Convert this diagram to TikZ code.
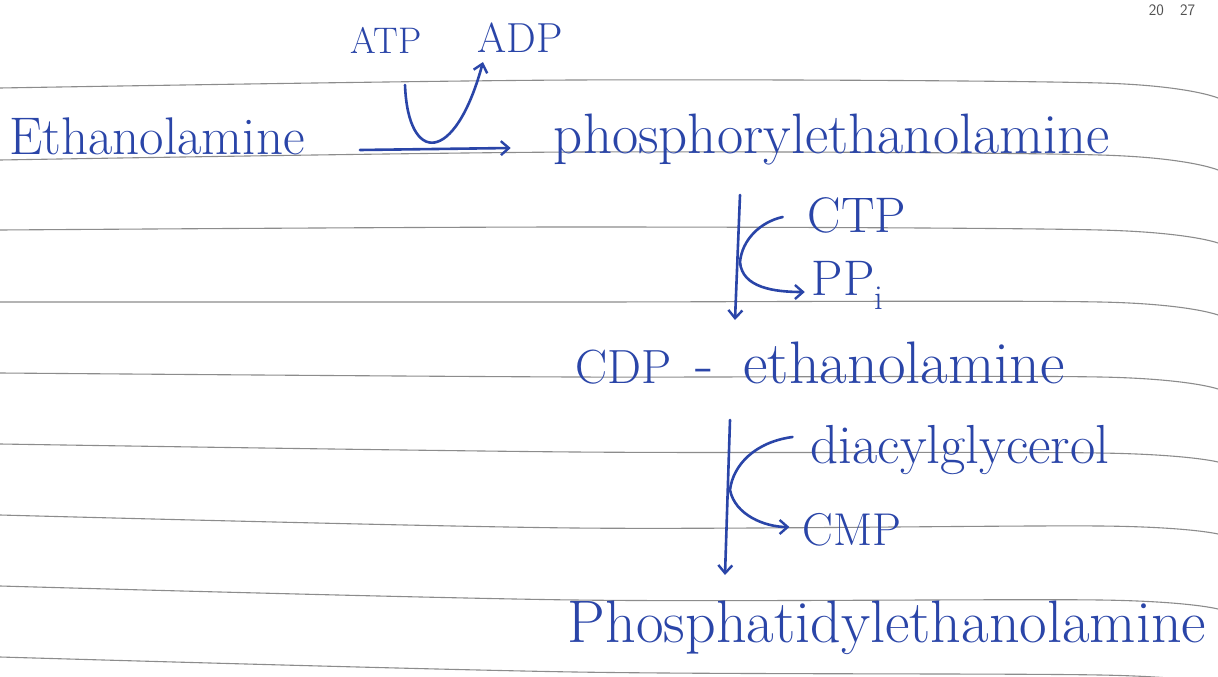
\documentclass[tikz,border=0pt]{standalone}
\usetikzlibrary{arrows.meta}
\definecolor{ink}{HTML}{2A45A8}
\definecolor{ruling}{HTML}{8C8C8C}
\definecolor{printed}{HTML}{505050}
\tikzset{
  chem/.style={ink,inner sep=0pt,font=\fontsize{55}{57}\selectfont},
  side/.style={ink,inner sep=0pt,font=\fontsize{50}{52}\selectfont},
  rxn/.style={ink,line width=2.6pt,line cap=round,-{Straight Barb[length=8pt,width=14pt,line width=2.4pt]}},
  ruled/.style={ruling,line width=1.1pt},
}
\begin{document}
\begin{tikzpicture}[x=1pt,y=-1pt]
  \fill[white] (0,0) rectangle (1218,677);
  \useasboundingbox (0,0) rectangle (1218,677);

  % Ruled paper
  \foreach \ya/\yb/\yc/\yd in {88/80/83/98,160/152/155/170,230/227/230/243,302/302/302/315,373/377/377/389,444/452/453/462,515/528/526/534,586/600/600/609,657/672/675/684}
    \draw[ruled] plot[smooth] coordinates {(0,\ya) (575,\yb) (1100,\yc) (1218,\yd)};
  \node[printed,anchor=north,font=\sffamily\fontsize{16}{18}\selectfont] (pageno) at (1172,1) {20\quad 27};

  % Compounds
  \node[chem,font=\fontsize{53}{55}\selectfont] (ethanol) at (157,136) {Ethanolamine};
  \node[chem,font=\fontsize{57}{59}\selectfont] (phospho) at (832,140) {phosphorylethanolamine};
  \node[chem,font=\fontsize{60}{62}\selectfont] (cdp) at (820,363) {{\fontsize{48}{50}\selectfont CDP}\hspace{0.4em}-\hspace{0.5em}ethanolamine};
  \node[chem,font=\fontsize{60}{62}\selectfont] (pe) at (887,628) {Phosphatidylethanolamine};

  % Cofactors
  \node[chem,font=\fontsize{37}{39}\selectfont] (atp) at (386,40) {ATP};
  \node[chem,font=\fontsize{42}{44}\selectfont] (adp) at (520,38) {ADP};
  \node[side] (ctp) at (857,215) {CTP};
  \node[side] (ppi) at (848,285) {PP\textsubscript{i}};
  \node[chem] (diacyl) at (960,450) {diacylglycerol};
  \node[side,font=\fontsize{46}{48}\selectfont] (cmp) at (852,530) {CMP};

  % Step 1: kinase
  \draw[rxn] ([shift={(55,14)}]ethanol.east) -- ([shift={(-43,8)}]phospho.west);
  \draw[rxn] ([shift={(19,45)}]atp.center) .. controls (408,165) and (455,165) .. ([shift={(-37,24)}]adp.center);

  % Step 2: cytidylyltransferase
  \draw[rxn] ([shift={(-92,55)}]phospho.center) -- ([shift={(-85,-43)}]cdp.center);
  \draw[rxn] ([shift={(-25,2)}]ctp.west) .. controls (760,222) and (742,240) .. (740,262)
    .. controls (742,288) and (775,292) .. ([shift={(-7,7)}]ppi.west);

  % Step 3: phosphotransferase
  \draw[rxn] ([shift={(-90,57)}]cdp.center) -- ([shift={(-162,-53)}]pe.center);
  \draw[rxn] ([shift={(-18,-13)}]diacyl.west) .. controls (755,442) and (733,465) .. (730,490)
    .. controls (735,515) and (765,527) .. ([shift={(-13,-3)}]cmp.west);
\end{tikzpicture}
\end{document}
